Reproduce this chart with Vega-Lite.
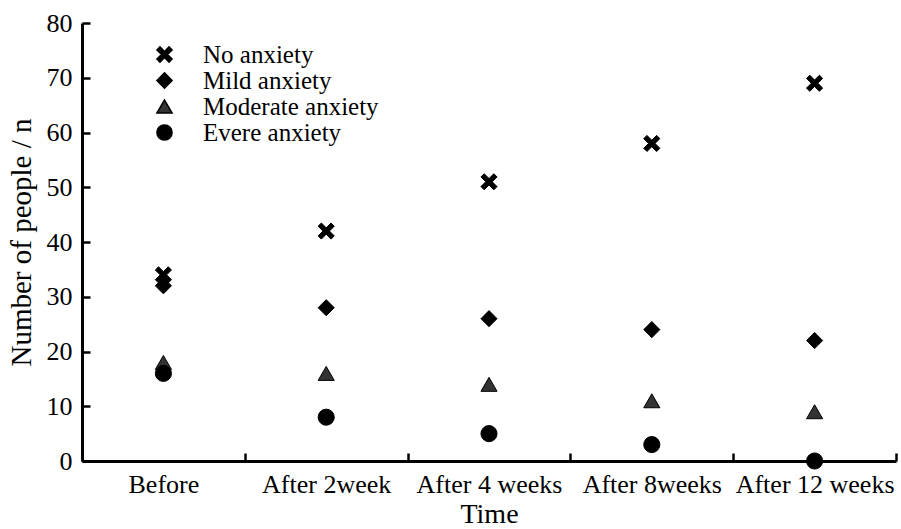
{
  "$schema": "https://vega.github.io/schema/vega-lite/v6.json",
  "width": 814,
  "height": 438,
  "autosize": "none",
  "padding": {"left": 82, "top": 23, "right": 5, "bottom": 68},
  "background": "white",
  "config": {
    "view": {"stroke": null},
    "font": "Liberation Serif",
    "axis": {"grid": false, "domainColor": "black", "tickColor": "black", "labelColor": "black", "titleColor": "black", "labelFont": "Liberation Serif", "titleFont": "Liberation Serif", "titleFontWeight": "normal"},
    "legend": {"padding": 0, "labelFont": "Liberation Serif", "labelFontSize": 25, "labelColor": "black", "labelLimit": 0, "labelOffset": 26, "symbolSize": 230, "symbolStrokeColor": "black", "rowPadding": 0}
  },
  "data": {
    "values": [
      {"time": "Before", "group": "No anxiety", "n": 34},
      {"time": "After 2week", "group": "No anxiety", "n": 42},
      {"time": "After 4 weeks", "group": "No anxiety", "n": 51},
      {"time": "After 8weeks", "group": "No anxiety", "n": 58},
      {"time": "After 12 weeks", "group": "No anxiety", "n": 69},
      {"time": "Before", "group": "Mild anxiety", "n": 32},
      {"time": "After 2week", "group": "Mild anxiety", "n": 28},
      {"time": "After 4 weeks", "group": "Mild anxiety", "n": 26},
      {"time": "After 8weeks", "group": "Mild anxiety", "n": 24},
      {"time": "After 12 weeks", "group": "Mild anxiety", "n": 22},
      {"time": "Before", "group": "Moderate anxiety", "n": 18},
      {"time": "After 2week", "group": "Moderate anxiety", "n": 16},
      {"time": "After 4 weeks", "group": "Moderate anxiety", "n": 14},
      {"time": "After 8weeks", "group": "Moderate anxiety", "n": 11},
      {"time": "After 12 weeks", "group": "Moderate anxiety", "n": 9},
      {"time": "Before", "group": "Evere anxiety", "n": 16},
      {"time": "After 2week", "group": "Evere anxiety", "n": 8},
      {"time": "After 4 weeks", "group": "Evere anxiety", "n": 5},
      {"time": "After 8weeks", "group": "Evere anxiety", "n": 3},
      {"time": "After 12 weeks", "group": "Evere anxiety", "n": 0}
    ]
  },
  "mark": {"type": "point", "filled": true, "size": 260, "stroke": "black", "strokeWidth": 1, "opacity": 1, "clip": false},
  "encoding": {
    "x": {
      "field": "time", "type": "nominal",
      "sort": ["Before", "After 2week", "After 4 weeks", "After 8weeks", "After 12 weeks"],
      "scale": {"paddingInner": 0, "paddingOuter": 0},
      "axis": {"title": "Time", "labelAngle": 0, "labelFontSize": 26, "titleFontSize": 28, "tickBand": "extent", "tickSize": -8, "tickWidth": 2.5, "domainWidth": 3, "labelPadding": 18, "titlePadding": 3, "labelBaseline": "top"}
    },
    "y": {
      "field": "n", "type": "quantitative",
      "scale": {"domain": [0, 80], "nice": false},
      "axis": {"title": "Number of people / n", "values": [0, 10, 20, 30, 40, 50, 60, 70, 80], "labelFontSize": 26, "titleFontSize": 29, "tickSize": -8, "tickWidth": 2.5, "domainWidth": 3, "labelPadding": 18, "titlePadding": 10}
    },
    "shape": {
      "field": "group", "type": "nominal",
      "scale": {
        "domain": ["No anxiety", "Mild anxiety", "Moderate anxiety", "Evere anxiety"],
        "range": ["M-1,-0.6L-0.6,-1L0,-0.4L0.6,-1L1,-0.6L0.4,0L1,0.6L0.6,1L0,0.4L-0.6,1L-1,0.6L-0.4,0Z", "diamond", "triangle-up", "circle"]
      },
      "legend": {"title": null, "orient": "none", "legendX": 70, "legendY": 19}
    },
    "color": {
      "field": "group", "type": "nominal",
      "scale": {
        "domain": ["No anxiety", "Mild anxiety", "Moderate anxiety", "Evere anxiety"],
        "range": ["black", "black", "#333333", "black"]
      },
      "legend": {"title": null, "orient": "none", "legendX": 70, "legendY": 19}
    }
  }
}
